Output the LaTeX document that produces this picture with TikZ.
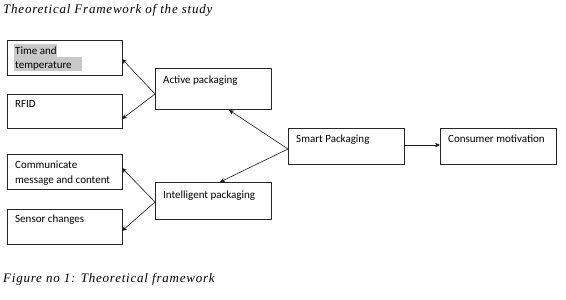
\documentclass[tikz,border=0pt]{standalone}
\usepackage{fontspec}
\setmainfont{Carlito}
\newfontfamily\capfont[LetterSpace=6]{Liberation Serif Italic}
\usetikzlibrary{arrows.meta}
\definecolor{hl}{RGB}{200,200,200}
\tikzset{
  boxnode/.style={draw=black!85, line width=0.8pt, anchor=north west, inner sep=0pt},
  txt/.style={anchor=base west, inner sep=0pt, font=\fontsize{11}{13}\selectfont},
  conn/.style={draw=black!90, line width=0.6pt, -{Stealth[length=5pt,width=4.5pt]}},
  capt/.style={anchor=base west, inner sep=0pt, font=\capfont\fontsize{13}{15}\selectfont}
}
\begin{document}
\begin{tikzpicture}[x=1pt,y=-1pt]
\useasboundingbox (0,0) rectangle (566,300);
\fill[white] (0,0) rectangle (566,300);
% highlight
\fill[hl] (14,44) rectangle (57,57);
\fill[hl] (14,57) rectangle (82,71);
% boxes
\node[boxnode, minimum width=115pt, minimum height=35pt] (tt) at (7,40) {};
\node[boxnode, minimum width=115pt, minimum height=34pt] (rfid) at (7,94) {};
\node[boxnode, minimum width=116pt, minimum height=41pt] (act) at (155,68) {};
\node[boxnode, minimum width=115pt, minimum height=35pt] (comm) at (7,154) {};
\node[boxnode, minimum width=115pt, minimum height=35pt] (sens) at (7,209) {};
\node[boxnode, minimum width=116pt, minimum height=37pt] (intel) at (155,182) {};
\node[boxnode, minimum width=116pt, minimum height=36pt] (smart) at (288,128) {};
\node[boxnode, minimum width=116pt, minimum height=36pt] (cons) at (440,128) {};
% texts
\node[txt] (t1) at (15,54) {Time and};
\node[txt] (t2) at (15,68) {temperature};
\node[txt] (t3) at (15,107) {RFID};
\node[txt] (t4) at (163,83) {Active packaging};
\node[txt] (t5) at (15,168) {Communicate};
\node[txt] (t6) at (15,183) {message and content};
\node[txt] (t7) at (15,222) {Sensor changes};
\node[txt] (t8) at (163,198) {Intelligent packaging};
\node[txt] (t9) at (296,142) {Smart Packaging};
\node[txt] (t10) at (448,142) {Consumer motivation};
\node[capt] (title) at (3,13) {Theoretical Framework of the study};
\node[capt] (caption) at (3,282) {Figure no 1: Theoretical framework};
% connector points
\coordinate (actL) at (155,94);
\coordinate (ttR) at (122,59);
\coordinate (rfidR) at (122,119);
\coordinate (intL) at (155,202);
\coordinate (commR) at (122,168);
\coordinate (sensR) at (122,231);
\coordinate (smL) at (288,149);
\coordinate (actB) at (229,110);
\coordinate (intT) at (220,182);
\coordinate (smR) at (404,145);
\coordinate (consL) at (440,145);
% connectors
\draw[conn] (actL) -- (ttR);
\draw[conn] (actL) -- (rfidR);
\draw[conn] (intL) -- (commR);
\draw[conn] (intL) -- (sensR);
\draw[conn] (smL) -- (actB);
\draw[conn] (smL) -- (intT);
\draw[conn] (smR) -- (consL);
\end{tikzpicture}
\end{document}
